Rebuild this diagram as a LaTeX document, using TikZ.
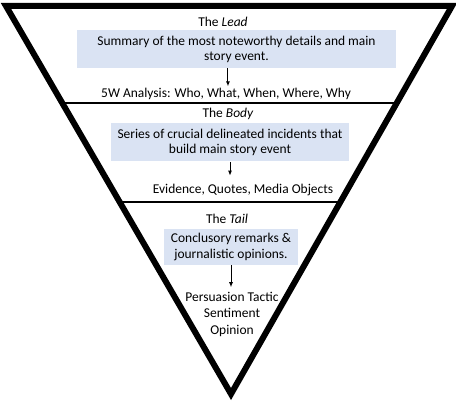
\documentclass[tikz,border=0pt]{standalone}
\usepackage{fontspec}
\setmainfont{Carlito}
\usetikzlibrary{arrows.meta,calc}

\tikzset{every picture/.style={line width=0.75pt}}
\tikzset{
  pyrtext/.style={font=\fontsize{10.1}{11.3}\selectfont, inner sep=0pt, align=center},
  pyrbox/.style={pyrtext, fill=boxblue, minimum height=28.5pt},
  pyrarrow/.style={-{Latex[length=3.75pt,width=3pt]}, line width=0.75pt},
}
\definecolor{boxblue}{RGB}{218,227,243}

\begin{document}
\begin{tikzpicture}[x=0.75pt,y=0.75pt,yscale=-1,xscale=1]
\useasboundingbox (0,0) rectangle (456,402);

%Triangle corners
\coordinate (tl) at (6,6);
\coordinate (tr) at (452,6);
\coordinate (ap) at (231,394);

%Shape: Triangle
\draw [line width=4.5pt, line join=miter] (tl) -- (tr) -- (ap) -- cycle ;

%Straight Lines: section dividers
\draw [line width=1.5pt] ($(tl)!0.25!(ap)$) -- ($(tr)!0.25!(ap)$) ;
\draw [line width=1.5pt] ($(tl)!0.505!(ap)$) -- ($(tr)!0.505!(ap)$) ;

% Text Node
\node [pyrtext] (lead) at (223,22) {The \textit{Lead}};
% Text Node
\node [pyrbox, minimum width=239.25pt] (leadbox) at (236.5,49) {Summary of the most noteworthy details and main\\story event.};
% Text Node
\node [pyrtext] (fivew) at (226,94) {5W Analysis: Who, What, When, Where, Why};

% Text Node
\node [pyrtext] (body) at (228,114) {The \textit{Body}};
% Text Node
\node [pyrbox, minimum width=179pt] (bodybox) at (230,142.5) {Series of crucial delineated incidents that\\build main story event};
% Text Node
\node [pyrtext] (evid) at (243,190) {Evidence, Quotes, Media Objects};

% Text Node
\node [pyrtext] (tail) at (227,219) {The \textit{Tail}};
% Text Node
\node [pyrbox, minimum width=100.5pt, minimum height=27pt] (tailbox) at (231,247) {Conclusory remarks \&\\journalistic opinions.};
% Text Node
\node [pyrtext] (persu) at (232,314) {Persuasion Tactic\\[1.1pt]Sentiment\\[1.1pt]Opinion};

%Arrows
\draw [pyrarrow] ([xshift=-6.4pt]leadbox.south) -- ([xshift=-6.4pt,yshift=-1pt]leadbox.south |- fivew.north) ;
\draw [pyrarrow] ([xshift=0pt]bodybox.south) -- ([yshift=-6pt]bodybox.south |- evid.north) ;
\draw [pyrarrow] (tailbox.south) -- ([yshift=-3pt]tailbox.south |- persu.north) ;

\end{tikzpicture}
\end{document}
